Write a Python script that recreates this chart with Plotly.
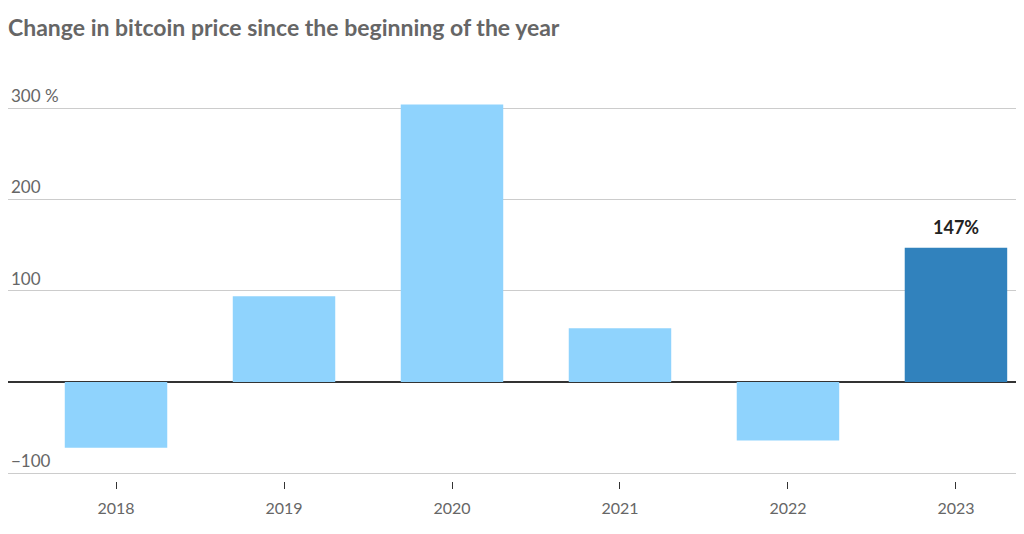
import plotly.graph_objects as go

years = ["2018", "2019", "2020", "2021", "2022", "2023"]
change_pct = [-72, 94, 304, 59, -64, 147]
bar_colors = ["#8fd3fd", "#8fd3fd", "#8fd3fd", "#8fd3fd", "#8fd3fd", "#3182bd"]
y_tickvals = [-100, 0, 100, 200, 300]
y_ticktext = ["\u2212100", "", "100", "200", "300 %"]
title_text = "Change in bitcoin price since the beginning of the year"
highlight_label = "147%"

x_pos = list(range(len(years)))
font_family = "Lato, 'Noto Sans', sans-serif"

fig = go.Figure()
fig.add_trace(go.Bar(
    x=x_pos, y=change_pct, marker_color=bar_colors, marker_line_width=0,
    width=0.61, hoverinfo="skip",
))

fig.add_annotation(
    x=x_pos[-1], y=change_pct[-1], text="<b>%s</b>" % highlight_label,
    showarrow=False, yanchor="bottom", yshift=8,
    font=dict(family=font_family, size=18, color="#222222"),
)

fig.update_layout(
    width=1016, height=526,
    margin=dict(l=0, r=0, t=59, b=53),
    paper_bgcolor="white", plot_bgcolor="white",
    showlegend=False,
    font=dict(family=font_family, color="#666666"),
    title=dict(
        text="<b>%s</b>" % title_text,
        x=0, xanchor="left", xref="container",
        y=1 - 20 / 526, yanchor="middle", yref="container",
        font=dict(family=font_family, size=23, color="#666666"),
    ),
)

fig.update_xaxes(
    range=[-0.643, 5.405],
    tickvals=x_pos, ticktext=years,
    showgrid=False, zeroline=False, showline=False,
    ticks="outside", ticklen=7, tickcolor="#333333", tickwidth=1,
    ticklabelstandoff=6,
    tickfont=dict(family=font_family, size=16, color="#666666"),
)

fig.update_yaxes(
    range=[-108.4, 345],
    tickvals=y_tickvals, ticktext=y_ticktext,
    ticklabelposition="inside top",
    showgrid=True, gridcolor="#cccccc", gridwidth=1,
    zeroline=True, zerolinecolor="#333333", zerolinewidth=1.5,
    showline=False, ticks="",
    tickfont=dict(family=font_family, size=17, color="#666666"),
)

fig.write_html("out.html")
